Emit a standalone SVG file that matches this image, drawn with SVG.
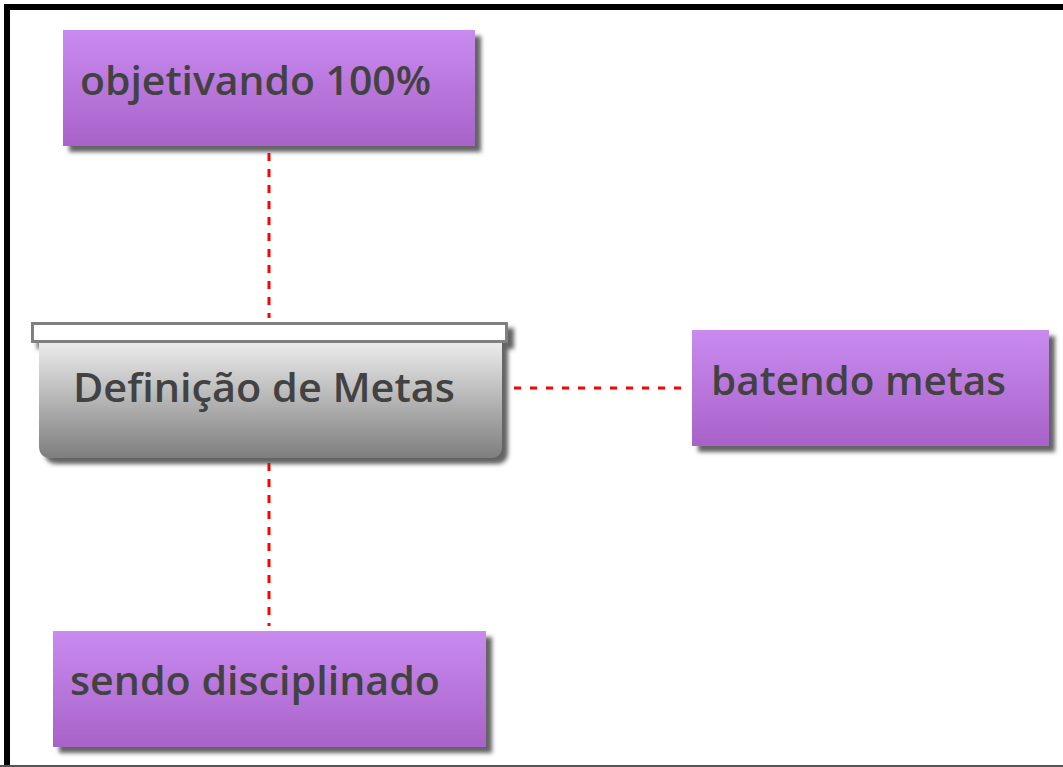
<svg xmlns="http://www.w3.org/2000/svg" width="1063" height="767" viewBox="0 0 1063 767">
  <defs>
    <linearGradient id="purple" x1="0" y1="0" x2="0" y2="1">
      <stop offset="0" stop-color="#c98bf0"/>
      <stop offset="1" stop-color="#a862c8"/>
    </linearGradient>
    <linearGradient id="gray" x1="0" y1="0" x2="0" y2="1">
      <stop offset="0" stop-color="#ececec"/>
      <stop offset="1" stop-color="#7e7e7e"/>
    </linearGradient>
    <filter id="shadow" x="-10%" y="-10%" width="130%" height="140%">
      <feDropShadow dx="6" dy="6" stdDeviation="2" flood-color="#4a4a4a" flood-opacity="0.85"/>
    </filter>
    <style>
      .box { fill: url(#purple); filter: url(#shadow); }
      .label { font-family: "Open Sans", "Noto Sans", "DejaVu Sans", sans-serif; font-weight: 600; font-size: 40px; fill: #424242; }
      .conn { stroke: #ff0000; stroke-width: 3; fill: none; }
    </style>
  </defs>
  <rect x="0" y="0" width="1063" height="767" fill="#ffffff"/>
  <rect x="4" y="4" width="1059" height="6" fill="#000000"/>
  <rect x="4" y="4" width="6" height="763" fill="#000000"/>
  <rect x="0" y="765" width="1063" height="2" fill="#555555"/>

  <g id="connectors">
    <line class="conn" x1="269" y1="153" x2="269" y2="318" stroke-dasharray="8 8"/>
    <line class="conn" x1="269" y1="463" x2="269" y2="626" stroke-dasharray="8 8"/>
    <line class="conn" x1="514" y1="388" x2="682" y2="388" stroke-dasharray="7 9"/>
  </g>

  <g id="node-objetivando">
    <rect class="box" x="63" y="30" width="412" height="116"/>
    <text class="label" x="80" y="95" textLength="351" lengthAdjust="spacingAndGlyphs">objetivando 100%</text>
  </g>

  <g id="node-definicao">
    <g filter="url(#shadow)">
      <path d="M39 342 H502 V446 Q502 458 490 458 H51 Q39 458 39 446 Z" fill="url(#gray)"/>
      <rect x="32.5" y="323.5" width="474" height="18" fill="#ffffff" stroke="#808080" stroke-width="3"/>
    </g>
    <text class="label" x="73" y="402" textLength="382" lengthAdjust="spacingAndGlyphs">Definição de Metas</text>
  </g>

  <g id="node-batendo">
    <rect class="box" x="692" y="330" width="357" height="116"/>
    <text class="label" x="711" y="395" textLength="295" lengthAdjust="spacingAndGlyphs">batendo metas</text>
  </g>

  <g id="node-sendo">
    <rect class="box" x="53" y="631" width="433" height="116"/>
    <text class="label" x="70" y="695" textLength="370" lengthAdjust="spacingAndGlyphs">sendo disciplinado</text>
  </g>
</svg>
